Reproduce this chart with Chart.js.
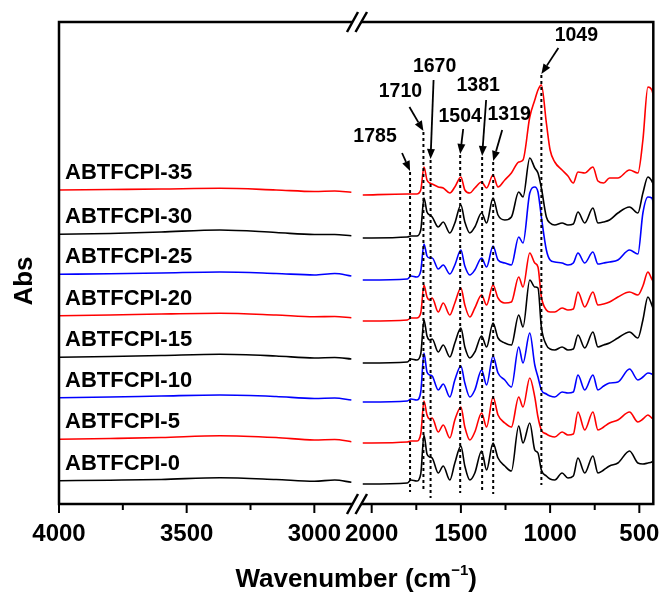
<!DOCTYPE html>
<html>
<head>
<meta charset="utf-8">
<script src="https://cdn.jsdelivr.net/npm/chart.js@4.4.1/dist/chart.umd.min.js"></script>
<style>
    body { margin: 0; background: #fff; }
    #wrap { width: 661px; height: 593px; }
</style>
</head>
<body>
<div id="wrap"><canvas id="ftir" width="661" height="593"></canvas></div>
<script>
    // sample names (bottom to top) and line colours
    const samples = ['ABTFCPI-0', 'ABTFCPI-5', 'ABTFCPI-10', 'ABTFCPI-15', 'ABTFCPI-20', 'ABTFCPI-25', 'ABTFCPI-30', 'ABTFCPI-35'];
    const colors = ['#000000', '#ff0000', '#0000ff', '#000000', '#ff0000', '#0000ff', '#000000', '#ff0000'];

    // wavenumbers (cm-1) of the two broken-axis segments
    const leftWn = [4000, 3800, 3600, 3370, 3150, 3000, 2920, 2855];
    const rightWn = [2050, 1800, 1780, 1748, 1725, 1707, 1690, 1675, 1661, 1627, 1599, 1562, 1534, 1500, 1478, 1450,
        1422, 1384, 1356, 1320, 1292, 1254, 1217, 1176, 1152, 1114, 1086, 1068, 1049, 1021, 1000, 974, 933, 900, 870,
        844, 806, 760, 732, 700, 667, 620, 555, 508, 480, 452, 430, 415];

    // stacked absorbance (arbitrary units, offset traces) - high wavenumber part
    const abs0L = [23.3, 23.8, 24.5, 26.3, 24.5, 22.7, 24, 21.7];
    const abs5L = [64.7, 65.5, 66.5, 68.3, 66.5, 64, 64.5, 62.3];
    const abs10L = [106.3, 107, 108, 109, 107.5, 105.5, 106, 104];
    const abs15L = [146.7, 147.5, 148.5, 149.7, 148, 146, 146.5, 145];
    const abs20L = [188.3, 189, 190, 190.7, 189, 187.3, 187.5, 186.3];
    const abs25L = [229.7, 230.3, 231, 232, 230.5, 229, 230.5, 228];
    const abs30L = [269.7, 270.5, 272, 274, 271.5, 269.5, 269.5, 268.3];
    const abs35L = [314, 314.5, 315, 315.7, 314, 312.5, 313, 311.7];

    // fingerprint region
    const abs0R = [20, 21, 24, 23, 30, 69, 50, 47, 46, 31, 38, 24, 41, 58, 38, 24, 31, 53, 34, 61, 46, 38, 33, 78, 61,
        81, 54, 51, 34, 28, 25, 24, 31, 26, 28, 46, 31, 48, 31, 34, 38, 41, 53, 41, 40, 41, 42, 44];
    const abs5R = [61, 62, 63, 63, 70, 103, 89, 85, 86, 72, 79, 66, 84, 97, 77, 64, 72, 91, 77, 107, 89, 81, 77, 107, 97,
        126, 107, 87, 74, 70, 68, 67, 72, 69, 70, 92, 74, 92, 74, 77, 81, 84, 92, 82, 85, 89, 86, 84];
    const abs10R = [102, 103, 105, 104, 112, 151, 132, 129, 128, 114, 120, 107, 124, 138, 121, 107, 114, 134, 119, 148,
        131, 124, 117, 157, 141, 171, 139, 127, 114, 110, 108, 107, 112, 111, 112, 129, 114, 129, 114, 118, 121, 122,
        135, 124, 127, 131, 130, 128];
    const abs15R = [141, 142, 145, 144, 150, 184, 168, 164, 165, 152, 159, 147, 161, 176, 157, 146, 152, 168, 157, 181,
        166, 161, 159, 189, 177, 224, 217, 216, 177, 159, 155, 154, 157, 154, 155, 169, 156, 172, 157, 159, 161, 166,
        172, 166, 184, 207, 199, 191];
    const abs20R = [183, 184, 186, 186, 191, 219, 207, 204, 206, 192, 201, 189, 201, 216, 199, 187, 196, 209, 199, 219,
        206, 201, 202, 227, 217, 251, 241, 237, 207, 194, 192, 192, 196, 194, 195, 212, 197, 212, 199, 200, 202, 207,
        212, 209, 218, 232, 225, 221];
    const abs25R = [224, 225, 228, 227, 233, 260, 248, 246, 246, 235, 239, 230, 239, 254, 238, 229, 234, 246, 237, 258,
        244, 241, 239, 267, 261, 311, 317, 312, 287, 254, 244, 242, 241, 239, 241, 251, 241, 252, 240, 241, 242, 244,
        254, 250, 291, 307, 306, 297];
    const abs30R = [266, 267, 268, 268, 274, 306, 292, 289, 287, 277, 282, 271, 281, 299, 282, 271, 277, 291, 281, 306,
        289, 284, 287, 312, 307, 346, 336, 331, 316, 287, 281, 279, 281, 279, 280, 292, 281, 296, 281, 282, 284, 291,
        297, 291, 311, 327, 323, 317];
    const abs35R = [309, 310, 310, 310, 314, 337, 324, 321, 320, 317, 316, 311, 317, 327, 314, 311, 316, 322, 316, 329,
        317, 324, 331, 342, 344, 387, 404, 414, 419, 381, 354, 342, 334, 328, 321, 332, 331, 337, 323, 321, 326, 326,
        334, 331, 364, 417, 414, 404];

    const leftSets = [abs0L, abs5L, abs10L, abs15L, abs20L, abs25L, abs30L, abs35L];
    const rightSets = [abs0R, abs5R, abs10R, abs15R, abs20R, abs25R, abs30R, abs35R];

    // tick labels
    const leftTicks = [4000, 3500, 3000];
    const rightTicks = [2000, 1500, 1000, 500];
    const leftMinor = [3750, 3250];
    const rightMinor = [1750, 1250, 750];

    // marked bands
    const peakWn = [1785, 1710, 1670, 1504, 1381, 1319, 1049];
    // where each dashed line / label / arrow tail sits (y in data units, dx in px from the line)
    const peakMarks = [
        { top: 332, bottom: 12, lx: -35, ly: 367, tx: -8, ty: 351 },
        { top: 372, bottom: 12, lx: -23, ly: 412, tx: -14, ty: 397 },
        { top: 344, bottom: 6, lx: 4, ly: 437, tx: 3, ty: 424 },
        { top: 349, bottom: 11, lx: 0, ly: 387, tx: 3, ty: 375 },
        { top: 347, bottom: 11, lx: -4, ly: 418, tx: 4, ty: 404 },
        { top: 342, bottom: 10, lx: 16, ly: 389, tx: 9, ty: 374 },
        { top: 429, bottom: 19, lx: 35, ly: 468, tx: 17, ty: 456 }
    ];

    const FONT = '"Liberation Sans", Arial, sans-serif';

    const datasets = [];
    samples.forEach((name, i) => {
        const common = {
            label: name,
            borderColor: colors[i],
            borderWidth: 1.6,
            pointRadius: 0,
            fill: false,
            cubicInterpolationMode: 'monotone'
        };
        datasets.push(Object.assign({ xAxisID: 'xl', data: leftWn.map((w, k) => ({ x: w, y: leftSets[i][k] })) }, common));
        datasets.push(Object.assign({ xAxisID: 'xr', data: rightWn.map((w, k) => ({ x: w, y: rightSets[i][k] })) }, common));
    });

    function arrow(ctx, x0, y0, x1, y1) {
        const ang = Math.atan2(y1 - y0, x1 - x0);
        const hl = 10, hw = 4;
        const bx = x1 - hl * Math.cos(ang), by = y1 - hl * Math.sin(ang);
        ctx.beginPath();
        ctx.moveTo(x0, y0);
        ctx.lineTo(bx, by);
        ctx.stroke();
        ctx.beginPath();
        ctx.moveTo(x1, y1);
        ctx.lineTo(bx + hw * Math.sin(ang), by - hw * Math.cos(ang));
        ctx.lineTo(bx - hw * Math.sin(ang), by + hw * Math.cos(ang));
        ctx.closePath();
        ctx.fill();
    }

    const decor = {
        id: 'decor',
        afterDraw(chart) {
            const { ctx, chartArea: a } = chart;
            const { xl, xr, y } = chart.scales;
            ctx.save();
            ctx.strokeStyle = '#000';
            ctx.fillStyle = '#000';

            // dashed band markers
            ctx.lineWidth = 2;
            ctx.setLineDash([3, 3]);
            peakWn.forEach((w, i) => {
                const px = xr.getPixelForValue(w);
                ctx.beginPath();
                ctx.moveTo(px, y.getPixelForValue(peakMarks[i].top));
                ctx.lineTo(px, y.getPixelForValue(peakMarks[i].bottom));
                ctx.stroke();
            });
            ctx.setLineDash([]);

            // arrows and band labels
            ctx.lineWidth = 1.8;
            ctx.font = 'bold 19.5px ' + FONT;
            ctx.textAlign = 'center';
            ctx.textBaseline = 'middle';
            peakWn.forEach((w, i) => {
                const m = peakMarks[i];
                const px = xr.getPixelForValue(w);
                arrow(ctx, px + m.tx, y.getPixelForValue(m.ty), px, y.getPixelForValue(m.top) - 1);
                ctx.fillText(String(w), px + m.lx, y.getPixelForValue(m.ly));
            });

            // sample names above each trace
            ctx.font = 'bold 22px ' + FONT;
            ctx.textAlign = 'left';
            samples.forEach((name, i) => {
                ctx.fillText(name, a.left + 6, y.getPixelForValue(leftSets[i][0]) - 17);
            });

            // frame
            ctx.lineWidth = 2.5;
            ctx.strokeRect(a.left, a.top, a.right - a.left, a.bottom - a.top);

            // tick marks
            ctx.lineWidth = 2;
            const tick = (sc, v, len) => {
                const px = sc.getPixelForValue(v);
                ctx.beginPath();
                ctx.moveTo(px, a.bottom);
                ctx.lineTo(px, a.bottom + len);
                ctx.stroke();
            };
            leftTicks.forEach(v => tick(xl, v, 9));
            rightTicks.forEach(v => tick(xr, v, 9));
            leftMinor.forEach(v => tick(xl, v, 6));
            rightMinor.forEach(v => tick(xr, v, 6));

            // axis break marks
            const bx = xl.right;
            [a.top, a.bottom].forEach(yy => {
                ctx.fillStyle = '#fff';
                ctx.beginPath();
                ctx.moveTo(bx - 11, yy + 10);
                ctx.lineTo(bx, yy - 10);
                ctx.lineTo(bx + 9, yy - 10);
                ctx.lineTo(bx - 2.5, yy + 10);
                ctx.closePath();
                ctx.fill();
                ctx.lineWidth = 2.5;
                ctx.beginPath();
                ctx.moveTo(bx - 11, yy + 10);
                ctx.lineTo(bx, yy - 10);
                ctx.moveTo(bx - 2.5, yy + 10);
                ctx.lineTo(bx + 9, yy - 10);
                ctx.stroke();
            });
            ctx.fillStyle = '#000';

            // axis titles
            ctx.font = 'bold 26px ' + FONT;
            ctx.textBaseline = 'alphabetic';
            const t1 = 'Wavenumber (cm', t2 = '\u22121', t3 = ')';
            const w1 = ctx.measureText(t1).width, w3 = ctx.measureText(t3).width;
            ctx.font = 'bold 15px ' + FONT;
            const w2 = ctx.measureText(t2).width;
            let tx = (a.left + a.right) / 2 - (w1 + w2 + w3) / 2;
            const ty = 587;
            ctx.textAlign = 'left';
            ctx.font = 'bold 26px ' + FONT;
            ctx.fillText(t1, tx, ty);
            ctx.font = 'bold 15px ' + FONT;
            ctx.fillText(t2, tx + w1, ty - 12);
            ctx.font = 'bold 26px ' + FONT;
            ctx.fillText(t3, tx + w1 + w2, ty);

            ctx.translate(25, 281);
            ctx.rotate(-Math.PI / 2);
            ctx.textAlign = 'center';
            ctx.textBaseline = 'middle';
            ctx.fillText('Abs', 0, 0);
            ctx.restore();
        }
    };

    const xAxis = (min, max, weight, ticks) => ({
        type: 'linear',
        position: 'bottom',
        stack: 'wn',
        stackWeight: weight,
        min: min,
        max: max,
        reverse: true,
        grid: { display: false, drawTicks: false },
        border: { display: false },
        ticks: {
            autoSkip: false,
            maxRotation: 0,
            padding: 16,
            color: '#000',
            font: { family: FONT, weight: 'bold', size: 24 },
            callback: v => String(v)
        },
        afterBuildTicks: s => { s.ticks = ticks.map(v => ({ value: v })); },
        afterFit: s => { s.height = 89; s.paddingLeft = 0; s.paddingRight = 0; }
    });

    new Chart(document.getElementById('ftir'), {
        type: 'line',
        data: { datasets: datasets },
        options: {
            responsive: false,
            animation: false,
            devicePixelRatio: 1,
            layout: { padding: { left: 59, right: 7.7, top: 22, bottom: 0 } },
            plugins: { legend: { display: false }, tooltip: { enabled: false } },
            scales: {
                xl: xAxis(2829, 4000, 299, leftTicks),
                xr: xAxis(421.7, 2076.7, 295.3, rightTicks),
                y: { type: 'linear', display: false, min: 0, max: 482 }
            }
        },
        plugins: [decor]
    });
</script>
</body>
</html>
